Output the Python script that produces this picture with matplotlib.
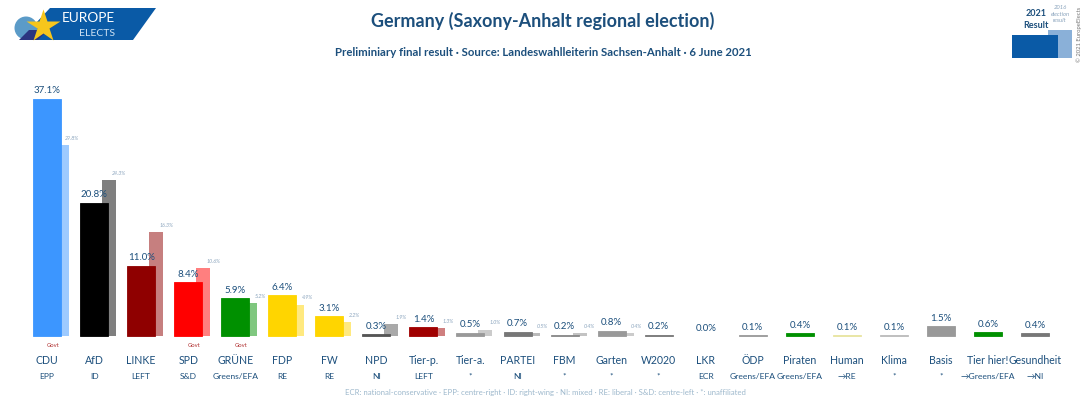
import matplotlib
matplotlib.use("Agg")
import matplotlib.pyplot as plt
from matplotlib.patches import Polygon, Rectangle, Circle

plt.rcParams['font.family'] = ['Lato', 'DejaVu Sans']

parties = ["CDU","AfD","LINKE","SPD","GRÜNE","FDP","FW","NPD","Tier-p.","Tier-a.","PARTEI","FBM","Garten","W2020",
           "LKR","ÖDP","Piraten","Human","Klima","Basis","Tier hier!","Gesundheit"]
groups = ["EPP","ID","LEFT","S&D","Greens/EFA","RE","RE","NI","LEFT","*","NI","*","*","*",
          "ECR","Greens/EFA","Greens/EFA","→RE","*","*","→Greens/EFA","→NI"]
results = [37.1,20.8,11.0,8.4,5.9,6.4,3.1,0.3,1.4,0.5,0.7,0.2,0.8,0.2,0.0,0.1,0.4,0.1,0.1,1.5,0.6,0.4]
previous = [29.8,24.3,16.3,10.6,5.2,4.9,2.2,1.9,1.3,1.0,0.5,0.4,0.4]
colors = ["#3c96ff","#000000","#8f0000","#ff0000","#009000","#ffd500","#ffd500","#555555","#a00000","#999999",
          "#777777","#888888","#999999","#777777","#ffffff","#999999","#009000","#e8e4a0","#bbbbbb","#999999","#009000","#777777"]
govt = ["CDU","SPD","GRÜNE"]
NAVY = "#1c4f7c"

fig = plt.figure(figsize=(10.88, 4.0), dpi=100, facecolor="white")

# bars: x axis in category slots, y axis in percent
ax = fig.add_axes([0, 0, 1, 1])
ax.set_xlim(-1.0, 22.125)
ax.set_ylim(-10, 52.5)
ax.axis("off")
xs = list(range(len(parties)))
px = 1 / 47.05
ax.bar([x + 15 * px for x in xs[:len(previous)]], previous, width=14 * px,
       color=colors[:len(previous)], alpha=0.5, linewidth=0, zorder=1)
ax.bar(xs, results, width=28 * px, color=colors, zorder=2,
       edgecolor=[c if r > 0 else "none" for c, r in zip(colors, results)], linewidth=0.6)

for x, r in zip(xs, results):
    ax.annotate(f"{r:.1f}%", (x, r), xytext=(0, 2.5), textcoords="offset points", ha="center", va="bottom",
                fontsize=7.0, color=NAVY, zorder=4)
for x, p in zip(xs, previous):
    ax.annotate(f"{p:.1f}%", (x + 25 * px, p), xytext=(0, 3), textcoords="offset points", ha="center", va="bottom",
                fontsize=3.8, color="#8aa4bd", style="italic", zorder=4)
for x, name, grp in zip(xs, parties, groups):
    ax.annotate(name, (x, 0), xytext=(0, -18), textcoords="offset points", ha="center", va="center",
                fontsize=7.6, color=NAVY)
    ax.annotate(grp, (x, 0), xytext=(0, -29), textcoords="offset points", ha="center", va="center",
                fontsize=6.1, color=NAVY)
    if name in govt:
        ax.annotate("Govt", (x + 6 * px, 0), xytext=(0, -6.5), textcoords="offset points", ha="center", va="center",
                    fontsize=4.2, color="#b03030")

# header furniture in pixel coordinates
ov = fig.add_axes([0, 0, 1, 1], facecolor="none")
ov.set_xlim(0, 1088)
ov.set_ylim(400, 0)
ov.axis("off")
ov.add_patch(Polygon([(50, 8), (156, 8), (133, 40), (20, 40)], closed=True, fc="#0a5aa6", ec="none"))
ov.add_patch(Circle((26, 28), 11.5, fc="#5b9bc8", ec="none"))
ov.add_patch(Polygon([(19, 40), (29, 30), (48, 30), (38, 40)], closed=True, fc="#2b3580", ec="none"))
ov.plot([43], [26], marker="*", ms=25, mfc="#f6c61c", mec="none", ls="none")
ov.text(88, 18, "EUROPE", color="white", fontsize=9.8, ha="center", va="center")
ov.text(97, 33, "ELECTS", color="#cfe2f3", fontsize=7.5, ha="center", va="center")

ov.text(543, 21, "Germany (Saxony-Anhalt regional election)", color=NAVY, fontsize=13,
        fontweight="bold", ha="center", va="center")
ov.text(543, 53, "Preliminiary final result · Source: Landeswahlleiterin Sachsen-Anhalt · 6 June 2021",
        color=NAVY, fontsize=8.2, fontweight="bold", ha="center", va="center")
ov.text(545, 392, "ECR: national-conservative · EPP: centre-right · ID: right-wing · NI: mixed · RE: liberal · "
        "S&D: centre-left · *: unaffiliated", color="#9db8cc", fontsize=5.6, ha="center", va="center")

ov.add_patch(Rectangle((1048, 30), 24, 28, fc="#8ab0d8", ec="none"))
ov.add_patch(Rectangle((1012, 35), 46, 23, fc="#0a5aa6", ec="none"))
ov.text(1036, 14, "2021", color=NAVY, fontsize=6.5, fontweight="bold", ha="center", va="center")
ov.text(1036, 26, "Result", color=NAVY, fontsize=6.5, fontweight="bold", ha="center", va="center")
ov.text(1060, 14, "2016\nelection\nresult", color="#8aa4bd", fontsize=4.2, style="italic",
        ha="center", va="center", linespacing=1.3)
ov.text(1079, 34, "© 2021 EuropeElects", color="#777777", fontsize=4.2, rotation=90, ha="center", va="center")

fig.savefig("out.png", dpi=100)
